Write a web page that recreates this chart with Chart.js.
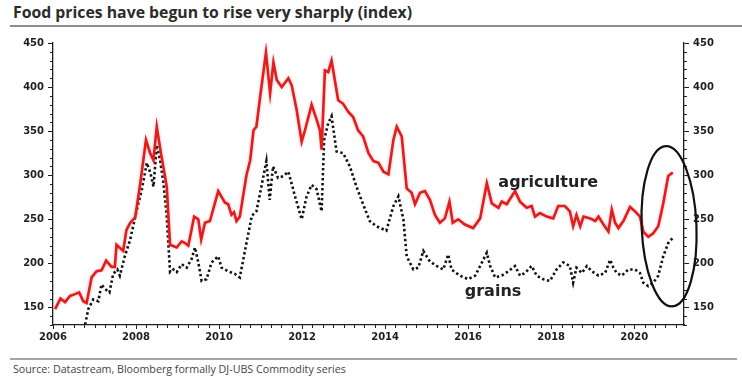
<!DOCTYPE html>
<html>
<head>
<meta charset="utf-8">
<script src="https://cdn.jsdelivr.net/npm/chart.js@4.4.1/dist/chart.umd.min.js"></script>
<style>
  html, body { margin: 0; padding: 0; background: #fff; }
  #page { position: relative; width: 742px; height: 378px; overflow: hidden; }
  #title { position: absolute; left: 13px; top: 1px; font: bold 15.8px "Open Sans", sans-serif; color: #2b2b2b; white-space: nowrap; }
  #rule1 { position: absolute; left: 10px; top: 25px; width: 732px; height: 2px; background: #8c8c8c; }
  #rule2 { position: absolute; left: 10px; top: 358px; width: 727px; height: 2px; background: #a6a6a6; }
  #source { position: absolute; left: 13px; top: 362px; font: 10.7px "Open Sans", sans-serif; color: #444; white-space: nowrap; }
  #chart { position: absolute; left: 0; top: 30px; }
</style>
</head>
<body>
<div id="page">
  <div id="title">Food prices have begun to rise very sharply (index)</div>
  <div id="rule1"></div>
  <canvas id="chart" width="742" height="325"></canvas>
  <div id="rule2"></div>
  <div id="source">Source: Datastream, Bloomberg formally DJ-UBS Commodity series</div>
</div>
<script>
// agriculture index (red line), x = year
const agriX = [2006.05, 2006.18, 2006.29, 2006.41, 2006.53, 2006.63, 2006.73, 2006.81, 2006.93,
  2007.05, 2007.17, 2007.28, 2007.41, 2007.49, 2007.53, 2007.69, 2007.77, 2007.86, 2007.98,
  2008.1, 2008.24, 2008.34, 2008.42, 2008.5, 2008.6, 2008.74, 2008.82, 2008.98,
  2009.1, 2009.18, 2009.26, 2009.4, 2009.5, 2009.57, 2009.66, 2009.78, 2009.98,
  2010.14, 2010.22, 2010.3, 2010.36, 2010.42, 2010.5, 2010.66, 2010.75, 2010.83, 2010.9, 2010.99,
  2011.13, 2011.23, 2011.31, 2011.39, 2011.51, 2011.67, 2011.75, 2011.87, 2011.99,
  2012.07, 2012.23, 2012.35, 2012.43, 2012.47, 2012.55, 2012.63, 2012.71, 2012.87, 2012.99,
  2013.11, 2013.23, 2013.35, 2013.47, 2013.6, 2013.72, 2013.84, 2013.96,
  2014.08, 2014.2, 2014.28, 2014.4, 2014.52, 2014.64, 2014.72, 2014.84, 2014.96,
  2015.08, 2015.2, 2015.32, 2015.44, 2015.55, 2015.63, 2015.76, 2015.92,
  2016.12, 2016.29, 2016.45, 2016.57, 2016.73, 2016.81, 2016.93,
  2017.13, 2017.25, 2017.41, 2017.53, 2017.61, 2017.73, 2017.89,
  2018.05, 2018.17, 2018.33, 2018.45, 2018.53, 2018.61, 2018.7, 2018.78, 2018.94,
  2019.06, 2019.14, 2019.26, 2019.38, 2019.46, 2019.54, 2019.62, 2019.74, 2019.9,
  2020.02, 2020.14, 2020.22, 2020.34, 2020.46, 2020.58, 2020.7, 2020.82, 2020.93]
const agriY = [148, 160, 156, 163, 165, 167, 157, 155, 184,
  191, 192, 203, 196, 196, 221, 214, 238, 246, 252,
  290, 340, 325, 317, 355, 325, 287, 221, 218,
  225, 223, 220, 253, 250, 227, 246, 248, 282,
  269, 267, 255, 258, 248, 253, 300, 317, 351, 355, 389,
  439, 393, 428, 408, 400, 410, 402, 374, 338,
  351, 380, 363, 351, 329, 419, 417, 430, 385, 381,
  372, 366, 351, 344, 325, 316, 314, 304,
  301, 340, 355, 344, 285, 280, 267, 280, 282,
  272, 255, 246, 251, 270, 246, 250, 244,
  240, 251, 291, 268, 263, 270, 267,
  282, 270, 263, 265, 253, 257, 253,
  251, 265, 265, 259, 242, 255, 242, 253, 251,
  248, 253, 244, 236, 261, 246, 240, 248, 264,
  259, 253, 236, 230, 234, 242, 268, 299, 303]

// grains index (black dotted line)
const grainX = [2006.75, 2006.85, 2006.97, 2007.09, 2007.17, 2007.25, 2007.36, 2007.45, 2007.55, 2007.61,
  2007.73, 2007.86, 2008.02, 2008.14, 2008.26, 2008.35, 2008.42, 2008.5, 2008.58, 2008.66,
  2008.74, 2008.82, 2008.9, 2008.98, 2009.1, 2009.22, 2009.34, 2009.42, 2009.5, 2009.58,
  2009.7, 2009.82, 2009.98, 2010.06, 2010.22, 2010.38, 2010.5, 2010.66, 2010.79, 2010.9,
  2011.02, 2011.14, 2011.22, 2011.3, 2011.42, 2011.55, 2011.67, 2011.83, 2011.99,
  2012.11, 2012.23, 2012.35, 2012.47, 2012.53, 2012.63, 2012.71, 2012.83, 2012.99,
  2013.15, 2013.31, 2013.47, 2013.63, 2013.79, 2014.03, 2014.2, 2014.32, 2014.44,
  2014.52, 2014.68, 2014.8, 2014.92, 2015.08, 2015.24, 2015.4, 2015.52, 2015.6, 2015.8,
  2016.0, 2016.17, 2016.29, 2016.45, 2016.53, 2016.65, 2016.81, 2016.97,
  2017.13, 2017.25, 2017.37, 2017.53, 2017.65, 2017.81, 2017.97,
  2018.13, 2018.29, 2018.45, 2018.53, 2018.61, 2018.74, 2018.86, 2018.98,
  2019.14, 2019.3, 2019.42, 2019.5, 2019.58, 2019.7, 2019.86,
  2020.02, 2020.14, 2020.22, 2020.34, 2020.46, 2020.58, 2020.7, 2020.82, 2020.93]
const grainY = [125, 148, 159, 157, 176, 171, 167, 188, 193, 186,
  208, 227, 261, 284, 314, 302, 287, 334, 317, 291,
  253, 190, 193, 190, 199, 195, 205, 218, 201, 180,
  182, 201, 208, 195, 191, 188, 184, 223, 254, 259,
  287, 316, 272, 310, 297, 299, 304, 276, 250,
  276, 289, 284, 259, 340, 359, 367, 327, 325,
  310, 287, 267, 248, 242, 237, 265, 276, 250,
  208, 193, 195, 214, 202, 197, 193, 210, 193, 186,
  182, 186, 197, 212, 197, 184, 186, 191,
  197, 186, 189, 197, 186, 182, 180,
  193, 201, 197, 178, 195, 189, 197, 191,
  186, 189, 204, 195, 189, 186, 193,
  193, 189, 178, 174, 178, 186, 208, 223, 229]

const yTicks = [150, 200, 250, 300, 350, 400, 450]
const xTicks = [2006, 2008, 2010, 2012, 2014, 2016, 2018, 2020]
const seriesNames = ['agriculture', 'grains']

const tickFont = { family: 'DejaVu Sans', size: 10, weight: 'bold' }
const inkColor = '#1e1e1e'

let toPoints = (xs, ys) => xs.map((x, i) => ({ x: x, y: ys[i] }))

// soft halo on the red line, like the source picture
let halo = {
  id: 'halo',
  beforeDatasetDraw: (chart, args) => {
    if (args.index !== 0) return
    chart.ctx.save()
    chart.ctx.shadowColor = 'rgba(235, 90, 90, 0.45)'
    chart.ctx.shadowBlur = 3
  },
  afterDatasetDraw: (chart, args) => {
    if (args.index !== 0) return
    chart.ctx.restore()
  }
}

// minor ticks, series labels and the highlight ring
let extras = {
  id: 'extras',
  afterDraw: chart => {
    const c = chart.ctx
    const x = chart.scales.x, y = chart.scales.y
    const area = chart.chartArea
    c.save()
    c.strokeStyle = inkColor
    c.lineWidth = 1
    c.beginPath()
    for (let v = 130; v <= 450; v += 10) {
      if (v % 50 === 0) continue
      const py = Math.round(y.getPixelForValue(v)) + 0.5
      c.moveTo(area.left - 3, py); c.lineTo(area.left, py)
      c.moveTo(area.right, py); c.lineTo(area.right + 3, py)
    }
    for (let q = 2006; q <= 2021.2; q += 0.25) {
      if (xTicks.includes(q)) continue
      const px = Math.round(x.getPixelForValue(q)) + 0.5
      c.moveTo(px, area.bottom); c.lineTo(px, area.bottom + 3)
    }
    c.stroke()

    c.fillStyle = '#222'
    c.font = 'bold 16px "DejaVu Sans"'
    c.textAlign = 'center'
    c.textBaseline = 'middle'
    c.fillText(seriesNames[0], x.getPixelForValue(2017.93), y.getPixelForValue(291))
    c.fillText(seriesNames[1], x.getPixelForValue(2016.6), y.getPixelForValue(168))

    const cx = x.getPixelForValue(2020.84), cy = y.getPixelForValue(242)
    const rx = x.getPixelForValue(2020.84 + 0.66) - cx
    const ry = cy - y.getPixelForValue(242 + 91)
    c.strokeStyle = '#111'
    c.lineWidth = 2.2
    c.beginPath()
    c.ellipse(cx, cy, rx, ry, -0.04, 0, Math.PI * 2)
    c.stroke()
    c.restore()
  }
}

let yAxis = (pos, w) => ({
  type: 'linear',
  position: pos,
  min: 130,
  max: 450,
  afterBuildTicks: s => { s.ticks = yTicks.map(v => ({ value: v })) },
  afterFit: s => { s.width = w },
  grid: { drawOnChartArea: false, tickLength: 5, color: inkColor, tickColor: inkColor },
  border: { color: inkColor, width: 1.3 },
  ticks: { font: tickFont, color: inkColor, padding: 4, callback: v => String(v) }
})

new Chart(document.getElementById('chart'), {
  type: 'line',
  data: {
    datasets: [{
      label: seriesNames[0],
      data: toPoints(agriX, agriY),
      borderColor: '#e11d1d',
      borderWidth: 2.6,
      pointRadius: 0,
      tension: 0,
      yAxisID: 'y'
    }, {
      label: seriesNames[1],
      data: toPoints(grainX, grainY),
      borderColor: '#111',
      borderWidth: 2.6,
      borderDash: [2.4, 2.6],
      borderCapStyle: 'butt',
      pointRadius: 0,
      tension: 0,
      yAxisID: 'y'
    }]
  },
  options: {
    responsive: false,
    animation: false,
    devicePixelRatio: 1,
    layout: { padding: { top: 13, left: 0, right: 0, bottom: 0 } },
    plugins: { legend: { display: false }, tooltip: { enabled: false } },
    scales: {
      x: {
        type: 'linear',
        min: 2006,
        max: 2021.2,
        afterBuildTicks: s => { s.ticks = xTicks.map(v => ({ value: v })) },
        afterFit: s => { s.height = 30 },
        grid: { drawOnChartArea: false, tickLength: 4, color: inkColor, tickColor: inkColor },
        border: { color: inkColor, width: 1.3 },
        ticks: { font: tickFont, color: inkColor, padding: 2, maxRotation: 0, autoSkip: false, callback: v => String(v) }
      },
      y: yAxis('left', 53),
      y2: yAxis('right', 58)
    }
  },
  plugins: [halo, extras]
})
</script>
</body>
</html>
